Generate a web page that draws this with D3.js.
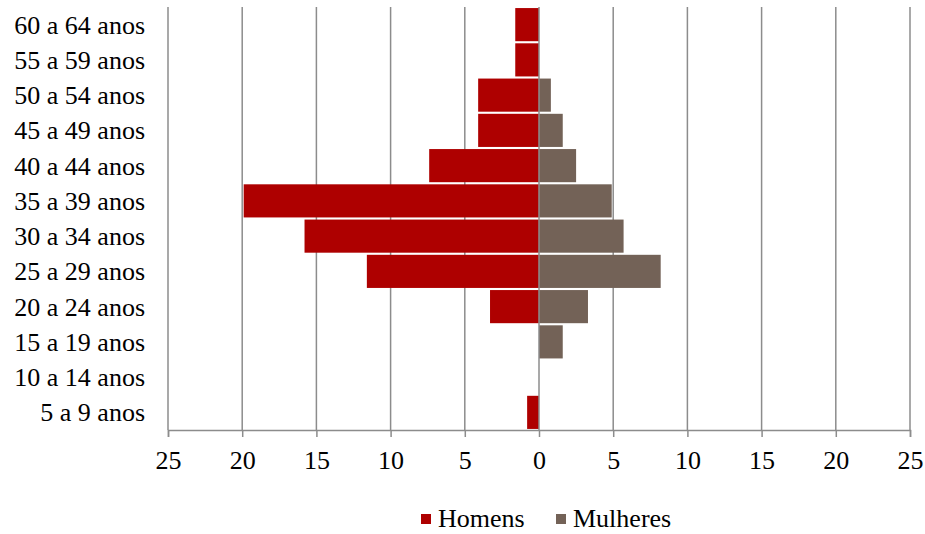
<!DOCTYPE html>
<html>
<head>
<meta charset="utf-8">
<title>Pirâmide etária</title>
<style>
  svg text { font-family: "Times New Roman", Tinos, "Liberation Serif", serif !important; }
</style>
</head>
<body style="margin:0;background:#fff">
<svg id="chart" width="925" height="534" font-family="serif"></svg>
<script src="https://cdn.jsdelivr.net/npm/d3@7"></script>
<script>
// faixas etárias, de cima para baixo
const faixas = ['60 a 64 anos', '55 a 59 anos', '50 a 54 anos', '45 a 49 anos', '40 a 44 anos',
  '35 a 39 anos', '30 a 34 anos', '25 a 29 anos', '20 a 24 anos', '15 a 19 anos',
  '10 a 14 anos', '5 a 9 anos'];
const homens =   [1.6, 1.6, 4.1, 4.1, 7.4, 19.9, 15.8, 11.6, 3.3, 0, 0, 0.8];
const mulheres = [0, 0, 0.8, 1.6, 2.5, 4.9, 5.7, 8.2, 3.3, 1.6, 0, 0];
const ticks = [-25, -20, -15, -10, -5, 0, 5, 10, 15, 20, 25];
const series = ['Homens', 'Mulheres'];
const colors = ['#ae0000', '#736257'];

const svg = d3.select('#chart');

const x = d3.scaleLinear().domain([-25, 25]).range([168, 910]);
const y = d3.scaleBand().domain(faixas).range([7, 430]).paddingInner(0.06).paddingOuter(0.03);

// grade vertical
svg.append('g')
  .selectAll('line')
  .data(ticks.filter(d => d !== 0))
  .enter().append('line')
  .attr('x1', d => x(d)).attr('x2', d => x(d))
  .attr('y1', 7).attr('y2', 430)
  .attr('stroke', '#8c8c8c').attr('stroke-width', 1.5);

// barras
svg.append('g')
  .selectAll('rect')
  .data(faixas)
  .enter().append('rect')
  .attr('x', (d, i) => x(-homens[i]))
  .attr('width', (d, i) => x(0) - x(-homens[i]))
  .attr('y', d => y(d))
  .attr('height', y.bandwidth())
  .attr('fill', colors[0]);

svg.append('g')
  .selectAll('rect')
  .data(faixas)
  .enter().append('rect')
  .attr('x', x(0))
  .attr('width', (d, i) => x(mulheres[i]) - x(0))
  .attr('y', d => y(d))
  .attr('height', y.bandwidth())
  .attr('fill', colors[1]);

// linha do zero
svg.append('line')
  .attr('x1', x(0)).attr('x2', x(0))
  .attr('y1', 7).attr('y2', 430)
  .attr('stroke', '#8c8c8c').attr('stroke-width', 1.5);

// eixo x
const axis = svg.append('g')
  .attr('transform', 'translate(0,430)')
  .call(d3.axisBottom(x).tickValues(ticks).tickSize(7).tickPadding(14)
    .tickFormat(d => Math.abs(d)));
axis.attr('font-family', 'serif').attr('font-size', 26);
axis.select('.domain').attr('stroke', '#8c8c8c').attr('stroke-width', 1.5);
axis.selectAll('.tick line').attr('stroke', '#8c8c8c').attr('stroke-width', 1.5);
axis.selectAll('.tick text').attr('fill', '#000');

// rótulos das faixas
svg.append('g')
  .attr('font-size', 26)
  .selectAll('text')
  .data(faixas)
  .enter().append('text')
  .attr('x', 145)
  .attr('y', d => y(d) + y.bandwidth() / 2 + 9)
  .attr('text-anchor', 'end')
  .text(d => d);

// legenda
const legendX = [421, 556];
const legend = svg.append('g')
  .attr('font-size', 26)
  .selectAll('g')
  .data(series)
  .enter().append('g')
  .attr('transform', (d, i) => `translate(${legendX[i]},514)`);
legend.append('rect')
  .attr('width', 10).attr('height', 10)
  .attr('fill', (d, i) => colors[i]);
legend.append('text')
  .attr('x', 17).attr('y', 13)
  .text(d => d);
</script>
</body>
</html>
